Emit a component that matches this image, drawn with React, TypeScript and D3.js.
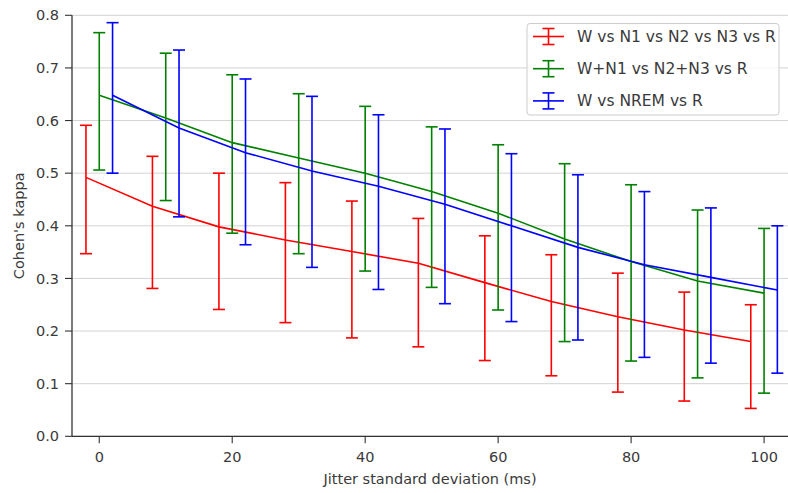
import React from "react";
import * as d3 from "d3";

const jitter = [0, 10, 20, 30, 40, 50, 60, 70, 80, 90, 100];
const yTicks = [0.0, 0.1, 0.2, 0.3, 0.4, 0.5, 0.6, 0.7, 0.8];
const xTicks = [0, 20, 40, 60, 80, 100];

const seriesNames = ["W vs N1 vs N2 vs N3 vs R", "W+N1 vs N2+N3 vs R", "W vs NREM vs R"];
const seriesColors = ["#ff0000", "#008000", "#0000ff"];
const seriesOffsets = [-2, 0, 2];

const redMean = [0.492, 0.437, 0.398, 0.373, 0.351, 0.329, 0.292, 0.256, 0.227, 0.202, 0.180];
const redUpper = [0.591, 0.532, 0.500, 0.482, 0.447, 0.414, 0.381, 0.345, 0.310, 0.274, 0.250];
const redLower = [0.347, 0.281, 0.241, 0.216, 0.187, 0.170, 0.144, 0.115, 0.084, 0.067, 0.053];

const greenMean = [0.648, 0.605, 0.558, 0.529, 0.500, 0.465, 0.424, 0.375, 0.332, 0.295, 0.272];
const greenUpper = [0.767, 0.728, 0.687, 0.651, 0.627, 0.588, 0.554, 0.518, 0.478, 0.430, 0.395];
const greenLower = [0.506, 0.448, 0.386, 0.347, 0.314, 0.283, 0.240, 0.180, 0.143, 0.111, 0.082];

const blueMean = [0.648, 0.586, 0.539, 0.504, 0.475, 0.441, 0.400, 0.359, 0.326, 0.302, 0.278];
const blueUpper = [0.786, 0.734, 0.679, 0.646, 0.611, 0.584, 0.537, 0.497, 0.465, 0.434, 0.400];
const blueLower = [0.500, 0.417, 0.364, 0.321, 0.279, 0.252, 0.218, 0.183, 0.150, 0.139, 0.120];

const means = [redMean, greenMean, blueMean];
const uppers = [redUpper, greenUpper, blueUpper];
const lowers = [redLower, greenLower, blueLower];

const W = 788;
const H = 493;
const left = 72;
const right = 788;
const top = 15.3;
const bottom = 436.3;

export default function App() {
  const x = d3.scaleLinear().domain([-4.1, 103.6]).range([left, right]);
  const y = d3.scaleLinear().domain([0, 0.8]).range([bottom, top]);
  const font = "'DejaVu Sans', sans-serif";
  const textColor = "#3a3a3a";
  const capHalf = 6;

  return (
    <svg
      width={W}
      height={H}
      style={{ position: "absolute", left: 0, top: 0, background: "#fff" }}
      fontFamily={font}
    >
      {/* grid */}
      {yTicks.map((t) => (
        <line key={"g" + t} x1={left} x2={right} y1={y(t)} y2={y(t)} stroke="#d3d3d3" strokeWidth={1} />
      ))}

      {/* series */}
      {means.map((m, si) => {
        const line = d3
          .line<number>()
          .x((_, i) => x(jitter[i] + seriesOffsets[si]))
          .y((v) => y(v));
        return (
          <g key={"s" + si} stroke={seriesColors[si]} strokeWidth={1.6} fill="none">
            {m.map((_, i) => {
              const cx = x(jitter[i] + seriesOffsets[si]);
              const yt = y(uppers[si][i]);
              const yb = y(lowers[si][i]);
              return (
                <g key={i}>
                  <line x1={cx} x2={cx} y1={yt} y2={yb} />
                  <line x1={cx - capHalf} x2={cx + capHalf} y1={yt} y2={yt} />
                  <line x1={cx - capHalf} x2={cx + capHalf} y1={yb} y2={yb} />
                </g>
              );
            })}
            <path d={line(m) || ""} />
          </g>
        );
      })}

      {/* axes */}
      <line x1={left} x2={left} y1={top} y2={bottom} stroke="#333" strokeWidth={1.3} />
      <line x1={left} x2={right} y1={bottom} y2={bottom} stroke="#333" strokeWidth={1.3} />

      {yTicks.map((t) => (
        <g key={"yt" + t}>
          <line x1={left - 7} x2={left} y1={y(t)} y2={y(t)} stroke="#333" strokeWidth={1.1} />
          <text x={left - 13} y={y(t)} dy="0.35em" textAnchor="end" fontSize={14.5} fill={textColor}>
            {d3.format(".1f")(t)}
          </text>
        </g>
      ))}
      {xTicks.map((t) => (
        <g key={"xt" + t}>
          <line x1={x(t)} x2={x(t)} y1={bottom} y2={bottom + 7} stroke="#333" strokeWidth={1.1} />
          <text x={x(t)} y={bottom + 26} textAnchor="middle" fontSize={14.5} fill={textColor}>
            {t}
          </text>
        </g>
      ))}

      <text x={(left + right) / 2} y={484} textAnchor="middle" fontSize={14.5} fill={textColor}>
        Jitter standard deviation (ms)
      </text>
      <text
        transform={`translate(24, ${(top + bottom) / 2}) rotate(-90)`}
        textAnchor="middle"
        fontSize={14.5}
        fill={textColor}
      >
        Cohen's kappa
      </text>

      {/* legend */}
      <g>
        <rect x={527} y={23.5} width={252} height={91.5} rx={3} fill="#fff" fillOpacity={0.85} stroke="#cccccc" strokeWidth={1} />
        {seriesNames.map((name, i) => {
          const cy = 36.5 + i * 32.2;
          return (
            <g key={"l" + i}>
              <g stroke={seriesColors[i]} strokeWidth={1.6}>
                <line x1={533} x2={564} y1={cy} y2={cy} />
                <line x1={548.5} x2={548.5} y1={cy - 8} y2={cy + 8} />
                <line x1={548.5 - capHalf} x2={548.5 + capHalf} y1={cy - 8} y2={cy - 8} />
                <line x1={548.5 - capHalf} x2={548.5 + capHalf} y1={cy + 8} y2={cy + 8} />
              </g>
              <text x={577} y={cy} dy="0.36em" fontSize={15.5} fill={textColor}>
                {name}
              </text>
            </g>
          );
        })}
      </g>
    </svg>
  );
}
